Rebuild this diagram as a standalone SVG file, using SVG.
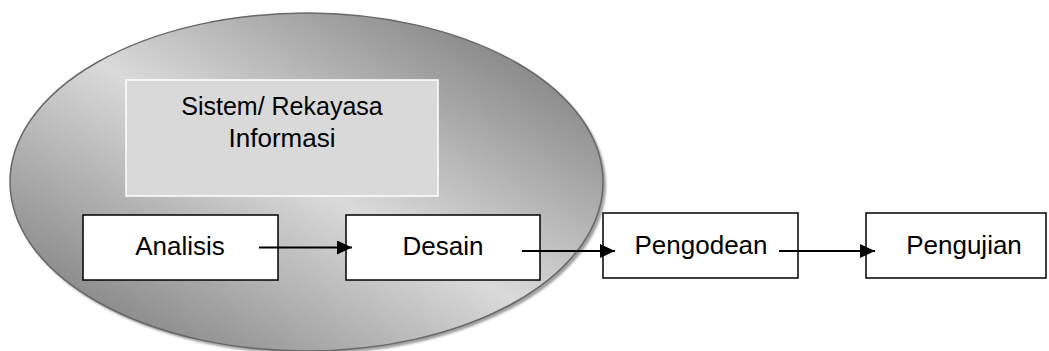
<svg xmlns="http://www.w3.org/2000/svg" width="1049" height="351" viewBox="0 0 1049 351">
<style>
.box{fill:#ffffff;stroke:#000000;stroke-width:1.5}
.lbl{font-family:"Liberation Sans",Arial,sans-serif;font-size:26px;fill:#000000;text-anchor:middle}
.con{stroke:#000000;stroke-width:2.2;fill:none}
</style>
<defs>
<linearGradient id="g" x1="1" y1="0" x2="0" y2="1">
<stop offset="0" stop-color="#6c6c6c"/>
<stop offset="0.5" stop-color="#dadada"/>
<stop offset="1" stop-color="#6e6e6e"/>
</linearGradient>
<filter id="blur" x="-5%" y="-5%" width="110%" height="110%">
<feGaussianBlur stdDeviation="1"/>
</filter>
<marker id="ah" markerWidth="15" markerHeight="14" refX="15" refY="7" orient="auto" markerUnits="userSpaceOnUse">
<path d="M0,0 L15,7 L0,14 Z" fill="#000000"/>
</marker>
</defs>
<g id="sistem-ellipse">
<ellipse cx="309" cy="185" rx="297" ry="169" fill="#a0a0a0" filter="url(#blur)"/>
<ellipse cx="306.5" cy="182" rx="296.5" ry="169" fill="url(#g)" stroke="#686868" stroke-width="1.5"/>
</g>
<g id="node-sistem">
<rect x="126" y="80" width="312" height="116" fill="#d9d9d9" stroke="#ffffff" stroke-width="1.5"/>
<text class="lbl" x="282" y="115" style="font-size:25px">Sistem/ Rekayasa</text>
<text class="lbl" x="282" y="147">Informasi</text>
</g>
<g id="node-analisis">
<rect class="box" x="83" y="215" width="195" height="65"/>
<text class="lbl" x="180" y="255">Analisis</text>
</g>
<g id="node-desain">
<rect class="box" x="346" y="215" width="194" height="65"/>
<text class="lbl" x="443" y="255">Desain</text>
</g>
<g id="node-pengodean">
<rect class="box" x="603" y="213" width="195" height="65"/>
<text class="lbl" x="701" y="254">Pengodean</text>
</g>
<g id="node-pengujian">
<rect class="box" x="866" y="213" width="180" height="65"/>
<text class="lbl" x="964" y="254">Pengujian</text>
</g>
<g id="connectors">
<line class="con" x1="259" y1="247.5" x2="352" y2="247.5" marker-end="url(#ah)"/>
<line class="con" x1="522" y1="251" x2="615" y2="251" marker-end="url(#ah)"/>
<line class="con" x1="779" y1="251" x2="875" y2="251" marker-end="url(#ah)"/>
</g>
</svg>
